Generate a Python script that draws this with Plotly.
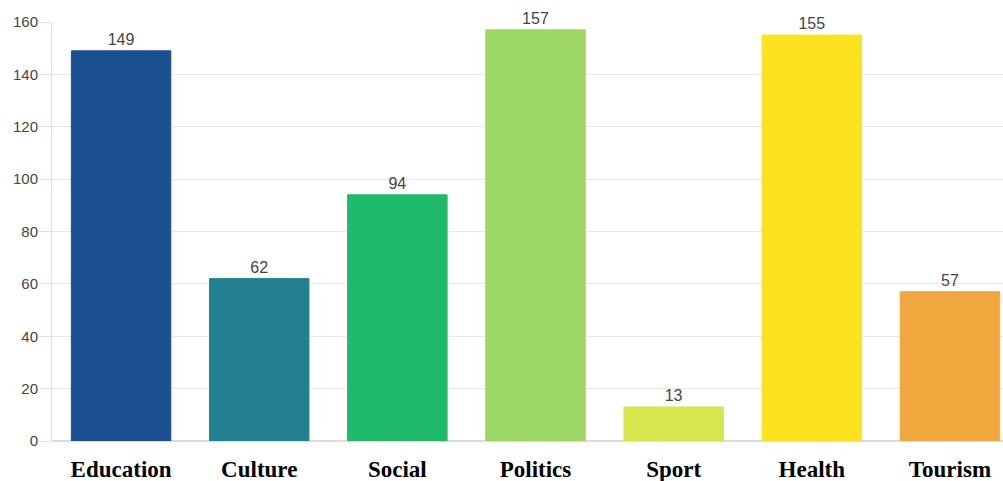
import plotly.graph_objects as go

categories = ["Education", "Culture", "Social", "Politics", "Sport", "Health", "Tourism"]
values = [149, 62, 94, 157, 13, 155, 57]
colors = ["#1b5192", "#22808f", "#1fba6b", "#9dd763", "#d7e64f", "#fde21f", "#f0a73e"]
y_ticks = [0, 20, 40, 60, 80, 100, 120, 140, 160]

fig = go.Figure(go.Bar(
    x=categories, y=values,
    marker=dict(color=colors, line=dict(width=1, color=colors)),
    text=[str(v) for v in values], textposition="outside",
    textfont=dict(family="Arial, Liberation Sans, sans-serif", size=16, color="#444"),
    cliponaxis=False,
))

fig.update_layout(
    width=1003, height=481,
    margin=dict(l=52, r=0, t=22, b=40),
    paper_bgcolor="white", plot_bgcolor="white",
    bargap=0.28, showlegend=False,
    xaxis=dict(
        range=[-0.5, 6.384], showgrid=False,
        tickfont=dict(family="Liberation Serif, Times New Roman, serif", size=23, color="black", weight="bold"),
        ticks="", ticklabelstandoff=12,
        showline=False, zeroline=False,
    ),
    yaxis=dict(
        range=[0, 160], tickvals=y_ticks,
        showgrid=True, gridcolor="#e8e8e8", gridwidth=1,
        ticks="outside", ticklen=12, tickcolor="#e0e0e0",
        showline=True, linecolor="#e0e0e0", linewidth=1,
        zeroline=True, zerolinecolor="#dcdcdc", zerolinewidth=2,
        tickfont=dict(family="Arial, Liberation Sans, sans-serif", size=15, color="#444"),
        ticklabelstandoff=-2,
    ),
)

fig.write_html("out.html")
